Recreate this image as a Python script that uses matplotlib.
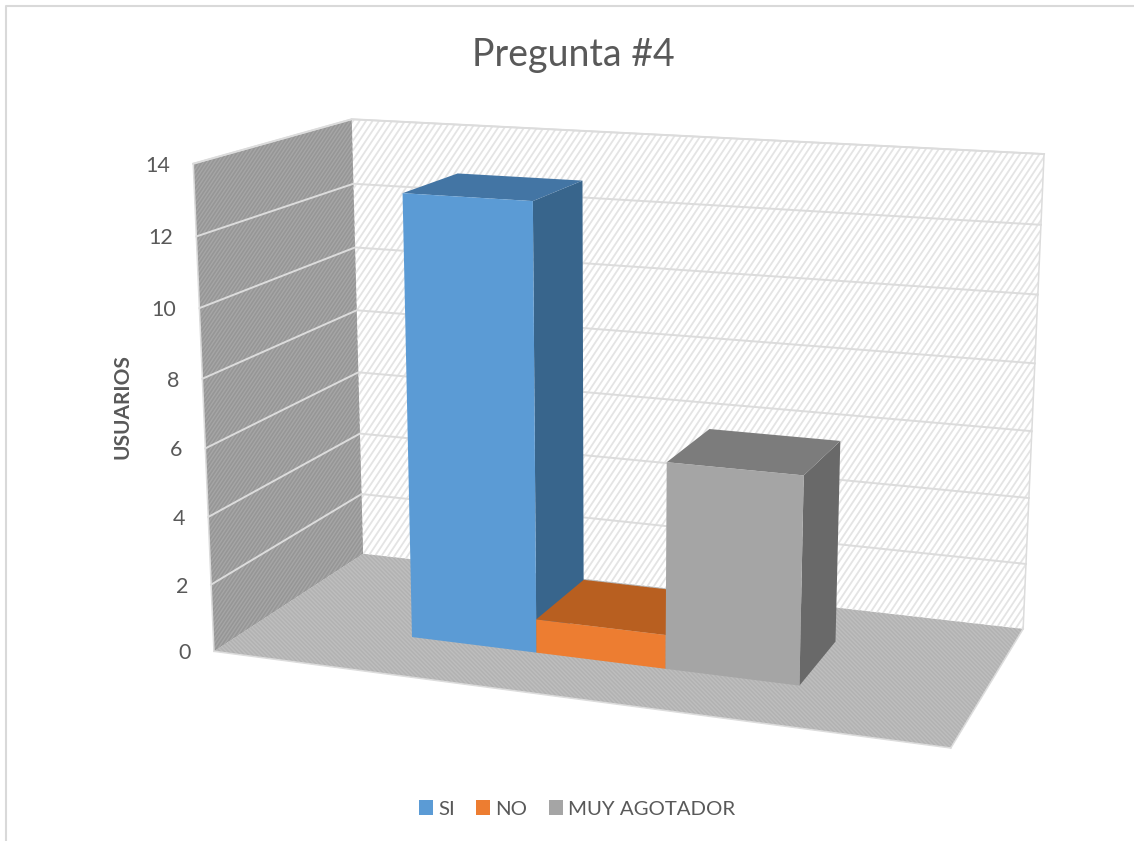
import matplotlib
matplotlib.use("Agg")
import matplotlib.pyplot as plt
import numpy as np
from matplotlib.collections import LineCollection
from matplotlib.patches import Patch, Polygon

categories = ["SI", "NO", "MUY AGOTADOR"]
values = [13, 1, 6]
yticks = [0, 2, 4, 6, 8, 10, 12, 14]
ymax = 14

front_colors = ["#5B9BD5", "#ED7D31", "#A5A5A5"]
top_colors = ["#4375A4", "#B85F20", "#7C7C7C"]
side_colors = ["#38658C", "#9E5220", "#696969"]

# box corners (x, depth, height) and where they land on the canvas
box_world = [(0, 0, 0), (0, 0, 1), (0, 1, 0), (0, 1, 1), (1, 1, 0), (1, 1, 1), (1, 0, 0)]
box_canvas = [(214, 651), (193, 164), (363, 554), (352, 119), (1023, 629), (1044, 154), (951, 748)]

# bar footprint inside the box
bar_left = 0.225
bar_width = 0.182
bar_front = 0.31
bar_back = 0.70


def fit_camera(world, canvas):
    rows = []
    for (x, y, z), (u, v) in zip(world, canvas):
        u, v = u / 1000, v / 1000
        rows.append([x, y, z, 1, 0, 0, 0, 0, -u * x, -u * y, -u * z, -u])
        rows.append([0, 0, 0, 0, x, y, z, 1, -v * x, -v * y, -v * z, -v])
    return np.linalg.svd(np.array(rows))[2][-1].reshape(3, 4)


camera = fit_camera(box_world, box_canvas)


def project(x, d, value):
    p = camera @ np.array([x, d, value / ymax, 1])
    return p[0] / p[2] * 1000, p[1] / p[2] * 1000


def face(ax, points, **kw):
    poly = Polygon([project(*p) for p in points], closed=True, **kw)
    ax.add_patch(poly)
    return poly


def stripes(ax, poly, color, step, lw, rise=1.5):
    # steep diagonal stripes clipped to a wall
    segs = []
    for x in np.arange(-400, 1500, step):
        segs.append([(x, 841), (x + 841 / rise, 0)])
    lines = LineCollection(segs, colors=color, linewidths=lw, zorder=1.1)
    ax.add_collection(lines, autolim=False)
    lines.set_clip_path(poly)


fig = plt.figure(figsize=(11.34, 8.41), dpi=100)
plt.rcParams["font.family"] = ["Lato", "DejaVu Sans"]
ax = fig.add_axes([0, 0, 1, 1])
ax.set_xlim(0, 1134)
ax.set_ylim(841, 0)
ax.axis("off")

# chart frame, only top and left show
ax.plot([6, 6, 1134], [841, 6, 6], color="#D9D9D9", lw=1.5)

# walls and floor
plt.rcParams["hatch.linewidth"] = 1.0
back_wall = face(ax, [(0, 1, 0), (1, 1, 0), (1, 1, ymax), (0, 1, ymax)], facecolor="white", lw=0)
stripes(ax, back_wall, "#E4E4E4", 6.5, 1.3)
left_wall = face(ax, [(0, 0, 0), (0, 1, 0), (0, 1, ymax), (0, 0, ymax)], facecolor="#969696", lw=0)
stripes(ax, left_wall, "#A6A6A6", 3.6, 1.0)
face(ax, [(0, 0, 0), (1, 0, 0), (1, 1, 0), (0, 1, 0)],
     facecolor="#B2B2B2", edgecolor="#BEBEBE", hatch="\\\\\\\\\\\\\\\\", lw=0)

# outlines of the walls
for a, b in [((0, 0, ymax), (0, 1, ymax)), ((0, 1, ymax), (1, 1, ymax)),
             ((1, 1, ymax), (1, 1, 0)), ((0, 0, ymax), (0, 0, 0)),
             ((0, 0, 0), (1, 0, 0)), ((1, 0, 0), (1, 1, 0))]:
    pa, pb = project(*a), project(*b)
    ax.plot([pa[0], pb[0]], [pa[1], pb[1]], color="#DCDCDC", lw=1.1)

# gridlines and value labels
for t in yticks:
    pts = [project(0, 0, t), project(0, 1, t), project(1, 1, t)]
    if t > 0:
        ax.plot([p[0] for p in pts], [p[1] for p in pts], color="#DCDCDC", lw=1.4)
    ax.text(pts[0][0] - 23, pts[0][1] + 2, str(t), ha="right", va="center",
            fontsize=15.5, color="#595959")

# bars, left to right
for i, val in enumerate(values):
    x0 = bar_left + i * bar_width
    x1 = x0 + bar_width
    face(ax, [(x1, bar_front, 0), (x1, bar_back, 0), (x1, bar_back, val), (x1, bar_front, val)],
         facecolor=side_colors[i], lw=0, zorder=3)
    face(ax, [(x0, bar_front, val), (x1, bar_front, val), (x1, bar_back, val), (x0, bar_back, val)],
         facecolor=top_colors[i], lw=0, zorder=3)
    face(ax, [(x0, bar_front, 0), (x1, bar_front, 0), (x1, bar_front, val), (x0, bar_front, val)],
         facecolor=front_colors[i], lw=0, zorder=3)

ax.text(573, 55, "Pregunta #4", ha="center", va="center", fontsize=27, color="#595959")
ax.text(123, 407, "USUARIOS", ha="center", va="center", rotation=90, fontsize=15,
        fontweight="bold", color="#595959")

handles = [Patch(facecolor=c, label=n) for c, n in zip(front_colors, categories)]
ax.legend(handles=handles, ncols=3, loc="center", bbox_to_anchor=(577 / 1134, 1 - 809 / 841),
          frameon=False, fontsize=14.7, labelcolor="#595959", handlelength=0.7, handleheight=0.7,
          handletextpad=0.25, columnspacing=1.05, borderpad=0)

fig.savefig("out.png", dpi=100)
